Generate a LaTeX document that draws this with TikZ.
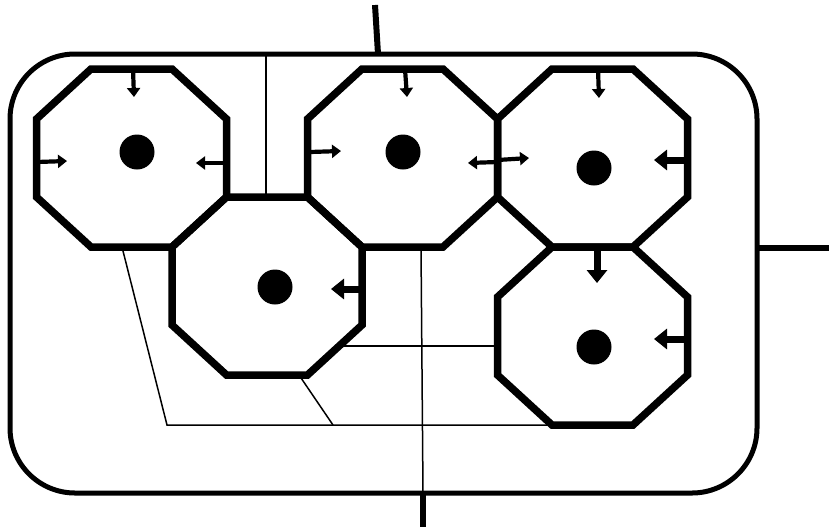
\documentclass[tikz,border=0pt]{standalone}
\usetikzlibrary{arrows.meta,calc}
\tikzset{
  octo/.style={line width=7.5pt, line join=miter},
  frame/.style={line width=5pt, rounded corners=65pt},
  stub/.style={line width=6pt},
  wire/.style={line width=1.5pt},
  dot/.style={fill=black},
  thinarr/.style={line width=4.2pt, -{Triangle[length=9pt,width=13pt]}},
  thickarr/.style={line width=7pt, -{Triangle[length=13pt,width=20pt]}},
}
\newcommand{\octagon}[3]{% name, cx, cy
  \coordinate (#1) at (#2,#3);
  \coordinate (#1-tl) at ($(#1)+(-40.5,-89)$);
  \coordinate (#1-tr) at ($(#1)+(40.5,-89)$);
  \coordinate (#1-rt) at ($(#1)+(95,-39)$);
  \coordinate (#1-rb) at ($(#1)+(95,39)$);
  \coordinate (#1-br) at ($(#1)+(40.5,89)$);
  \coordinate (#1-bl) at ($(#1)+(-40.5,89)$);
  \coordinate (#1-lb) at ($(#1)+(-95,39)$);
  \coordinate (#1-lt) at ($(#1)+(-95,-39)$);
  \draw[octo] (#1-tl) -- (#1-tr) -- (#1-rt) -- (#1-rb) -- (#1-br) -- (#1-bl) -- (#1-lb) -- (#1-lt) -- cycle;
}
\begin{document}
\begin{tikzpicture}[x=1pt,y=-1pt]
\useasboundingbox (0,0) rectangle (829,531);
% outer frame
\coordinate (F-tl) at (10,54);
\coordinate (F-br) at (757,493);
\draw[frame] (F-tl) rectangle (F-br);
% stubs
\coordinate (top-out) at (375,5);
\coordinate (top-in) at (378,54);
\coordinate (right-in) at (757,248);
\coordinate (right-out) at (829,248);
\coordinate (bot-in) at (423,493);
\coordinate (bot-out) at (423,527);
\draw[stub] (top-out) -- (top-in);
\draw[stub] (right-in) -- (right-out);
\draw[stub] (bot-in) -- (bot-out);
% thin wires
\coordinate (w1a) at (266,54);
\coordinate (w1b) at (266,197);
\draw[wire] (w1a) -- (w1b);
\coordinate (w2a) at (122,247);
\coordinate (w2b) at (167,425);
\coordinate (w3a) at (299,375);
\coordinate (w3b) at (333,425);
\coordinate (w4a) at (340,346);
\coordinate (w4b) at (497.5,346);
\coordinate (w5a) at (421,247);
\coordinate (Ebl) at (552,425);
\draw[wire] (w2a) -- (w2b) -- (Ebl);
\draw[wire] (w3a) -- (w3b);
\draw[wire] (w4a) -- (w4b);
\draw[wire] (w5a) -- (bot-in);
% octagons
\octagon{A}{131.5}{158}
\octagon{B}{402.5}{158}
\octagon{C}{592.5}{158}
\octagon{D}{267}{286}
\octagon{E}{592.5}{336}
% dots
\fill[dot] (137,152) circle (17.5);
\fill[dot] (403,152) circle (17.5);
\fill[dot] (594,168) circle (17.5);
\fill[dot] (275,287) circle (17.5);
\fill[dot] (594,347) circle (17.5);
% thin arrows
\coordinate (a1s) at (133,69);  \coordinate (a1e) at (134,97);
\coordinate (a2s) at (37,162);  \coordinate (a2e) at (67,161);
\coordinate (a3s) at (226,163); \coordinate (a3e) at (196,163);
\coordinate (b1s) at (405,69);  \coordinate (b1e) at (407,97);
\coordinate (b2s) at (310,152); \coordinate (b2e) at (341,151);
\coordinate (bc1s) at (497.5,162); \coordinate (bc1e) at (468,163);
\coordinate (bc2s) at (497.5,160); \coordinate (bc2e) at (529,158);
\coordinate (c1s) at (598,69);  \coordinate (c1e) at (599,98);
\draw[thinarr] (a1s) -- (a1e);
\draw[thinarr] (a2s) -- (a2e);
\draw[thinarr] (a3s) -- (a3e);
\draw[thinarr] (b1s) -- (b1e);
\draw[thinarr] (b2s) -- (b2e);
\draw[thinarr] (bc1s) -- (bc1e);
\draw[thinarr] (bc2s) -- (bc2e);
\draw[thinarr] (c1s) -- (c1e);
% thick arrows
\coordinate (c2s) at (687.5,160); \coordinate (c2e) at (654,160);
\coordinate (d1s) at (362,289);   \coordinate (d1e) at (331,289);
\coordinate (e1s) at (597,247);   \coordinate (e1e) at (597,283);
\coordinate (e2s) at (687.5,339); \coordinate (e2e) at (654,339);
\draw[thickarr] (c2s) -- (c2e);
\draw[thickarr] (d1s) -- (d1e);
\draw[thickarr] (e1s) -- (e1e);
\draw[thickarr] (e2s) -- (e2e);
\end{tikzpicture}
\end{document}
